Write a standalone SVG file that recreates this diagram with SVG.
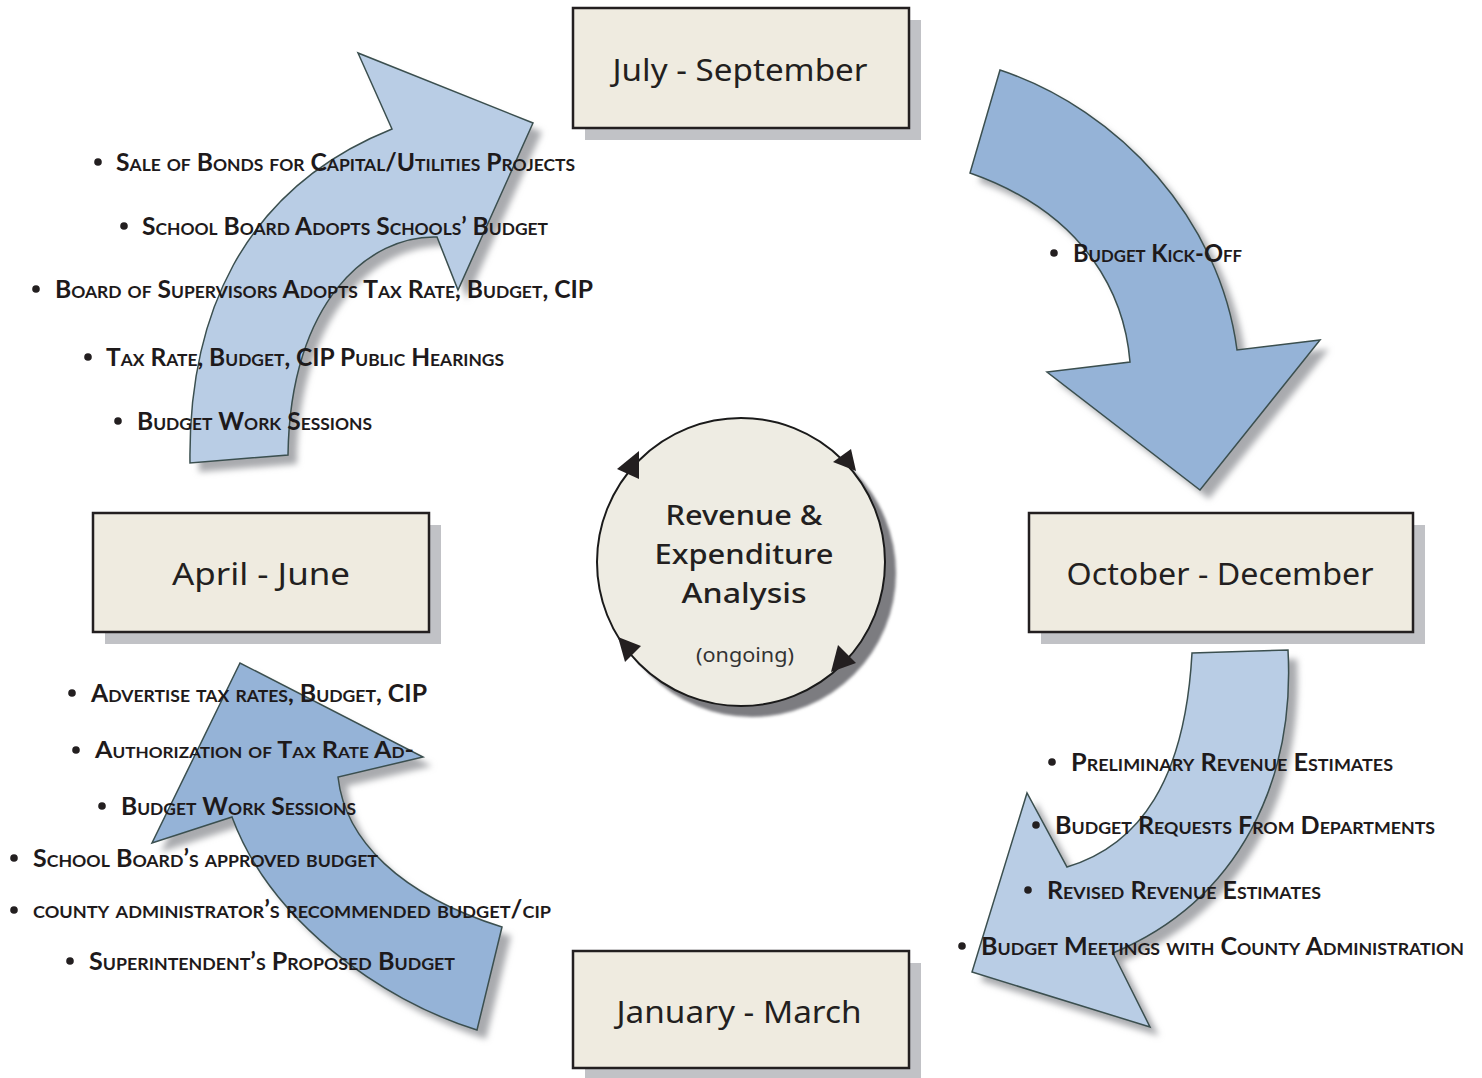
<svg xmlns="http://www.w3.org/2000/svg" width="1482" height="1078" viewBox="0 0 1482 1078">
<defs>
<filter id="blur" x="-10%" y="-10%" width="120%" height="120%"><feGaussianBlur stdDeviation="3"/></filter>
<filter id="blur2" x="-10%" y="-10%" width="120%" height="120%"><feGaussianBlur stdDeviation="1.5"/></filter>
<style>
.light{fill:#b9cde5;stroke:#3b4f4f;stroke-width:1.5;stroke-linejoin:miter}
.dark{fill:#95b3d7;stroke:#3b4f4f;stroke-width:1.5;stroke-linejoin:miter}
.ash{fill:#a9aaae;filter:url(#blur)}
.box{fill:#efebe0;stroke:#231f20;stroke-width:2.5}
.bsh{fill:#c1c2c6}
.lbl{font-family:"Noto Sans","DejaVu Sans",sans-serif;font-size:30px;fill:#231f20;text-anchor:middle}
.ctx{font-family:"Noto Sans","DejaVu Sans",sans-serif;font-size:27px;font-weight:500;fill:#231f20;text-anchor:middle}
.item{font-family:Lato,"Open Sans","Liberation Sans",sans-serif;font-weight:bold;font-size:24px;font-variant:small-caps;fill:#1e1a1b}
.dot{fill:#231f20}
</style>
</defs>
<rect width="1482" height="1078" fill="#ffffff"/>

<g id="connectors">
  <g id="arrow-jul">
    <path class="ash" transform="translate(9,9)" d="M190,463 C188,320 240,190 392,129 L358,53 L533,123 L458,290 L437,237 C370,235 290,300 288,455 Z"/>
    <path class="light" d="M190,463 C188,320 240,190 392,129 L358,53 L533,123 L458,290 L437,237 C370,235 290,300 288,455 Z"/>
  </g>
  <g id="arrow-oct">
    <path class="ash" transform="translate(9,9)" d="M1000,70 C1120,110 1220,220 1237,350 L1320,340 L1200,490 L1047,372 L1130,362 C1125,300 1090,215 970,173 Z"/>
    <path class="dark" d="M1000,70 C1120,110 1220,220 1237,350 L1320,340 L1200,490 L1047,372 L1130,362 C1125,300 1090,215 970,173 Z"/>
  </g>
  <g id="arrow-jan">
    <path class="ash" transform="translate(9,9)" d="M1192,653 L1288,650 C1295,780 1240,900 1113,953 L1150,1027 L972,972 L1027,793 L1067,867 C1140,845 1185,780 1192,653 Z"/>
    <path class="light" d="M1192,653 L1288,650 C1295,780 1240,900 1113,953 L1150,1027 L972,972 L1027,793 L1067,867 C1140,845 1185,780 1192,653 Z"/>
  </g>
  <g id="arrow-apr">
    <path class="ash" transform="translate(9,9)" d="M502,927 L477,1030 C380,1000 270,920 232,817 L152,843 L240,663 L423,757 L338,777 C345,840 400,895 502,927 Z"/>
    <path class="dark" d="M502,927 L477,1030 C380,1000 270,920 232,817 L152,843 L240,663 L423,757 L338,777 C345,840 400,895 502,927 Z"/>
  </g>
</g>

<g id="box-jul">
  <rect class="bsh" x="585" y="20" width="336" height="120"/>
  <rect class="box" x="573" y="8" width="336" height="120"/>
  <text class="lbl" x="740" y="81" textLength="255" lengthAdjust="spacingAndGlyphs">July - September</text>
</g>
<g id="box-oct">
  <rect class="bsh" x="1041" y="525" width="384" height="119"/>
  <rect class="box" x="1029" y="513" width="384" height="119"/>
  <text class="lbl" x="1220" y="585" textLength="307" lengthAdjust="spacingAndGlyphs">October - December</text>
</g>
<g id="box-jan">
  <rect class="bsh" x="585" y="963" width="336" height="117"/>
  <rect class="box" x="573" y="951" width="336" height="117"/>
  <text class="lbl" x="739" y="1023" textLength="245" lengthAdjust="spacingAndGlyphs">January - March</text>
</g>
<g id="box-apr">
  <rect class="bsh" x="105" y="525" width="336" height="119"/>
  <rect class="box" x="93" y="513" width="336" height="119"/>
  <text class="lbl" x="261" y="585" textLength="178" lengthAdjust="spacingAndGlyphs">April - June</text>
</g>

<g id="circle-analysis">
  <circle cx="752" cy="573" r="144" fill="#7c7c80" filter="url(#blur2)"/>
  <circle cx="741" cy="562" r="144" fill="#eeece3" stroke="#1a1a1a" stroke-width="2"/>
  <polygon class="dot" points="617,469 639,451 639,479"/>
  <polygon class="dot" points="833,462 851,449 856,471"/>
  <polygon class="dot" points="618,637 641,646 625,662"/>
  <polygon class="dot" points="838,645 856,663 831,672"/>
  <text class="ctx" x="744" y="525" textLength="157" lengthAdjust="spacingAndGlyphs">Revenue &amp;</text>
  <text class="ctx" x="744" y="564" textLength="179" lengthAdjust="spacingAndGlyphs">Expenditure</text>
  <text class="ctx" x="744" y="603" textLength="125" lengthAdjust="spacingAndGlyphs">Analysis</text>
  <text class="ctx" x="745" y="662" style="font-size:20px;font-weight:400;fill:#333" textLength="98" lengthAdjust="spacingAndGlyphs">(ongoing)</text>
</g>

<g id="notes-jul">
  <circle class="dot" cx="98" cy="162" r="3.8"/><text class="item" x="116" y="171" textLength="459" lengthAdjust="spacingAndGlyphs">Sale of Bonds for Capital/Utilities Projects</text>
  <circle class="dot" cx="124" cy="226" r="3.8"/><text class="item" x="142" y="235" textLength="406" lengthAdjust="spacingAndGlyphs">School Board Adopts Schools’ Budget</text>
  <circle class="dot" cx="36" cy="289" r="3.8"/><text class="item" x="55" y="298" textLength="538" lengthAdjust="spacingAndGlyphs">Board of Supervisors Adopts Tax Rate, Budget, CIP</text>
  <circle class="dot" cx="88" cy="357" r="3.8"/><text class="item" x="106" y="366" textLength="398" lengthAdjust="spacingAndGlyphs">Tax Rate, Budget, CIP Public Hearings</text>
  <circle class="dot" cx="118" cy="421" r="3.8"/><text class="item" x="137" y="430" textLength="235" lengthAdjust="spacingAndGlyphs">Budget Work Sessions</text>
</g>
<g id="notes-oct">
  <circle class="dot" cx="1054" cy="253" r="3.8"/><text class="item" x="1073" y="262" textLength="169" lengthAdjust="spacingAndGlyphs">Budget Kick-Off</text>
</g>
<g id="notes-jan">
  <circle class="dot" cx="1052" cy="762" r="3.8"/><text class="item" x="1071" y="771" textLength="322" lengthAdjust="spacingAndGlyphs">Preliminary Revenue Estimates</text>
  <circle class="dot" cx="1036" cy="825" r="3.8"/><text class="item" x="1055" y="834" textLength="380" lengthAdjust="spacingAndGlyphs">Budget Requests From Departments</text>
  <circle class="dot" cx="1028" cy="890" r="3.8"/><text class="item" x="1047" y="899" textLength="274" lengthAdjust="spacingAndGlyphs">Revised Revenue Estimates</text>
  <circle class="dot" cx="962" cy="946" r="3.8"/><text class="item" x="981" y="955" textLength="483" lengthAdjust="spacingAndGlyphs">Budget Meetings with County Administration</text>
</g>
<g id="notes-apr">
  <circle class="dot" cx="72" cy="693" r="3.8"/><text class="item" x="91" y="702" textLength="336" lengthAdjust="spacingAndGlyphs">Advertise tax rates, Budget, CIP</text>
  <circle class="dot" cx="76" cy="750" r="3.8"/><text class="item" x="95" y="758" style="font-size:22px" textLength="319" lengthAdjust="spacingAndGlyphs">Authorization of Tax Rate Ad-</text>
  <circle class="dot" cx="102" cy="806" r="3.8"/><text class="item" x="121" y="815" textLength="235" lengthAdjust="spacingAndGlyphs">Budget Work Sessions</text>
  <circle class="dot" cx="14" cy="858" r="3.8"/><text class="item" x="33" y="867" textLength="345" lengthAdjust="spacingAndGlyphs">School Board’s approved budget</text>
  <circle class="dot" cx="14" cy="910" r="3.8"/><text class="item" x="33" y="918" textLength="518" lengthAdjust="spacingAndGlyphs">county administrator’s recommended budget/cip</text>
  <circle class="dot" cx="70" cy="961" r="3.8"/><text class="item" x="89" y="970" textLength="366" lengthAdjust="spacingAndGlyphs">Superintendent’s Proposed Budget</text>
</g>
</svg>
